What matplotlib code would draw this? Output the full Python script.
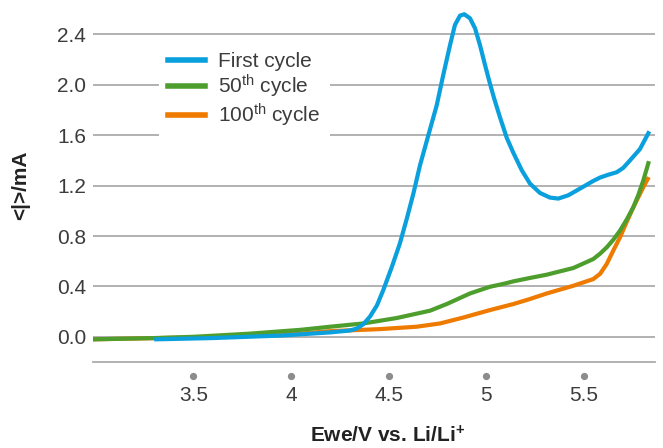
import matplotlib
matplotlib.use("Agg")
import matplotlib.pyplot as plt
from matplotlib.transforms import blended_transform_factory

# ---------------- data ----------------
first_x = [3.31, 3.60, 3.95, 4.20, 4.30, 4.336, 4.37, 4.404, 4.44, 4.472, 4.515,
           4.557, 4.593, 4.626, 4.660, 4.703, 4.746, 4.779, 4.814, 4.839, 4.865, 4.887,
           4.916, 4.942, 4.967, 4.993, 5.018, 5.040, 5.070, 5.104, 5.138, 5.181,
           5.223, 5.274, 5.325, 5.368, 5.419, 5.479, 5.547, 5.582, 5.625, 5.667,
           5.700, 5.735, 5.786, 5.829]
first_y = [-0.02, -0.01, 0.01, 0.035, 0.05, 0.065, 0.10, 0.16, 0.25, 0.37, 0.55,
           0.74, 0.94, 1.135, 1.36, 1.600, 1.839, 2.077, 2.316, 2.475, 2.549, 2.560,
           2.528, 2.448, 2.316, 2.157, 2.011, 1.89, 1.74, 1.58, 1.46, 1.322,
           1.216, 1.142, 1.105, 1.097, 1.123, 1.176, 1.237, 1.264, 1.287, 1.306,
           1.340, 1.40, 1.49, 1.616]

c50_x = [2.988, 3.30, 3.50, 3.79, 4.046, 4.20, 4.37, 4.541, 4.711, 4.797, 4.916,
         5.018, 5.087, 5.138, 5.223, 5.309, 5.445, 5.547, 5.582, 5.616, 5.650,
         5.684, 5.718, 5.752, 5.777, 5.803, 5.829]
c50_y = [-0.02, -0.01, 0.0, 0.025, 0.055, 0.08, 0.106, 0.149, 0.207, 0.26, 0.344,
         0.397, 0.42, 0.44, 0.467, 0.493, 0.546, 0.617, 0.66, 0.71, 0.771,
         0.843, 0.93, 1.028, 1.123, 1.24, 1.378]

c100_x = [2.988, 3.50, 3.79, 4.046, 4.20, 4.455, 4.643, 4.763, 4.882, 5.018, 5.138,
          5.223, 5.309, 5.445, 5.547, 5.582, 5.616, 5.650, 5.684, 5.718, 5.752,
          5.803, 5.826]
c100_y = [-0.02, -0.005, 0.01, 0.025, 0.045, 0.061, 0.08, 0.106, 0.153, 0.212, 0.26,
          0.30, 0.344, 0.405, 0.458, 0.50, 0.578, 0.686, 0.79, 0.911, 1.028,
          1.187, 1.253]

series_labels = ["First cycle", r"50$^{\mathrm{th}}$ cycle", r"100$^{\mathrm{th}}$ cycle"]
x_ticks = [3.5, 4.0, 4.5, 5.0, 5.5]
x_tick_labels = ["3.5", "4", "4.5", "5", "5.5"]
y_ticks = [0.0, 0.4, 0.8, 1.2, 1.6, 2.0, 2.4]
y_tick_labels = ["0.0", "0.4", "0.8", "1.2", "1.6", "2.0", "2.4"]
x_label = r"Ewe/V vs. Li/Li$^{\mathbf{+}}$"
y_label = "<|>/mA"

# ---------------- style ----------------
plt.rcParams["font.family"] = ["Liberation Sans", "DejaVu Sans"]
plt.rcParams["mathtext.fontset"] = "custom"
plt.rcParams["mathtext.rm"] = "Liberation Sans"
plt.rcParams["mathtext.bf"] = "Liberation Sans:bold"
plt.rcParams["mathtext.it"] = "Liberation Sans:italic"

BLUE = "#0A9FDD"
GREEN = "#4E9E2E"
ORANGE = "#EE7A00"
GRID = "#ABABAB"
TXT = "#3C3C3C"

fig = plt.figure(figsize=(6.63, 4.48), dpi=100)
ax = fig.add_axes([93.3 / 663, 1 - 362 / 448, (655 - 93.3) / 663, (362 - 9.2) / 448])

lw = 3.0
ax.plot(c100_x, c100_y, color=ORANGE, lw=lw, solid_joinstyle="round", zorder=3, label=series_labels[2])
ax.plot(c50_x, c50_y, color=GREEN, lw=lw, solid_joinstyle="round", zorder=4, label=series_labels[1])
ax.plot(first_x, first_y, color=BLUE, lw=lw, solid_joinstyle="round", zorder=5, label=series_labels[0])

ax.set_xlim(2.988, 5.863)
ax.set_ylim(-0.2, 2.6)

ax.set_yticks(y_ticks)
ax.set_yticklabels(y_tick_labels)
ax.set_xticks(x_ticks)
ax.set_xticklabels(x_tick_labels)
ax.tick_params(axis="both", length=0, labelsize=15, colors=TXT)
ax.tick_params(axis="y", pad=5)
ax.tick_params(axis="x", pad=17)

ax.grid(axis="y", color=GRID, lw=1.3, zorder=1)
ax.set_axisbelow(True)
for s in ["top", "right", "left"]:
    ax.spines[s].set_visible(False)
ax.spines["bottom"].set_color(GRID)
ax.spines["bottom"].set_linewidth(1.3)

# tick dots below the axis
tr = blended_transform_factory(ax.transData, ax.transAxes)
ax.plot(x_ticks, [-0.0397] * len(x_ticks), "o", ms=4.2, color="#8C8C8C",
        transform=tr, clip_on=False, zorder=2)

ax.set_xlabel(x_label, fontsize=15, fontweight="bold", color="#222222")
ax.xaxis.set_label_coords((388 - 93.3) / 561.7, -0.178)
ax.set_ylabel(y_label, fontsize=15, fontweight="bold", color="#222222")
ax.yaxis.set_label_coords((30 - 93.3) / 561.7, 0.5)

handles, labels = ax.get_legend_handles_labels()
order = [2, 1, 0]
leg = ax.legend([handles[i] for i in order], [labels[i] for i in order],
                loc="upper left", bbox_to_anchor=(159 / 663, 1 - 43 / 448),
                bbox_transform=fig.transFigure, frameon=True, fontsize=15,
                handlelength=1.78, handletextpad=0.62, labelspacing=0.08,
                borderpad=0.45, borderaxespad=0)
leg.get_frame().set_facecolor("white")
leg.get_frame().set_edgecolor("none")
leg.get_frame().set_alpha(1)
leg.get_frame().set_boxstyle("square", pad=0)
for t in leg.get_texts():
    t.set_color(TXT)
for h in leg.get_lines():
    h.set_linewidth(4)

fig.savefig("out.png", dpi=100)
